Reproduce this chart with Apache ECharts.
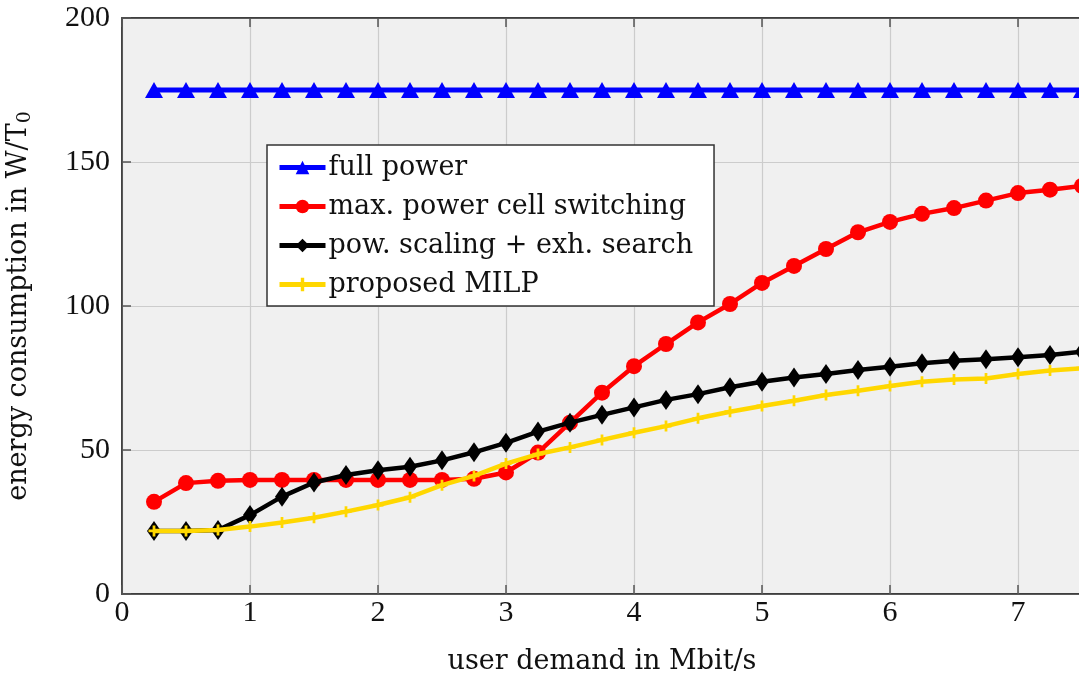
<!DOCTYPE html>
<html><head><meta charset="utf-8">
<script src="https://cdn.jsdelivr.net/npm/echarts@6/dist/echarts.min.js"></script>
<style>html,body{margin:0;padding:0;background:#fff}#c{width:1079px;height:682px}</style>
</head><body><div id="c"></div>
<script>
const xValues = [0.25,0.5,0.75,1,1.25,1.5,1.75,2,2.25,2.5,2.75,3,3.25,3.5,3.75,4,4.25,4.5,4.75,5,5.25,5.5,5.75,6,6.25,6.5,6.75,7,7.25,7.5];
const fullPower = [175,175,175,175,175,175,175,175,175,175,175,175,175,175,175,175,175,175,175,175,175,175,175,175,175,175,175,175,175,175];
const maxPowerCellSwitching = [32,38.5,39.3,39.6,39.6,39.6,39.6,39.6,39.6,39.6,40,42.2,49.1,59.5,69.9,79.1,86.8,94.3,100.7,108,113.9,119.8,125.6,129.2,132,134,136.6,139.2,140.4,141.7];
const powScalingExh = [21.9,21.9,22.2,27.4,33.8,38.7,41.3,43,44.2,46.4,49.2,52.5,56.4,59.5,62.2,64.8,67.4,69.4,71.8,73.7,75.2,76.4,77.8,78.9,80.1,81,81.5,82.2,83,84.1];
const proposedMILP = [21.9,21.9,22.2,23.4,24.8,26.5,28.6,30.9,33.6,37.8,41,45.3,48.6,50.9,53.5,56,58.3,61,63.3,65.3,67.1,69.1,70.6,72.2,73.7,74.5,74.8,76.4,77.6,78.4];
const seriesNames = ['full power','max. power cell switching','pow. scaling + exh. search','proposed MILP'];

const pair = arr => xValues.map((x,i)=>[x,arr[i]]);
const FONT = 'Liberation Serif';
const NFONT = 'DejaVu Serif';
const plusPath = 'path://M3,0H5V3H8V5H5V8H3V5H0V3H3Z';

const chart = echarts.init(document.getElementById('c'), null, {renderer:'canvas'});
chart.setOption({
  animation:false,
  backgroundColor:'#ffffff',
  textStyle:{fontFamily:FONT},
  grid:{left:122,right:-3,top:18,bottom:88,outerBoundsMode:'none',containLabel:false,show:true,backgroundColor:'#f0f0f0',borderColor:'#333',borderWidth:1.5},
  legend:{
    orient:'vertical',left:267,top:145,
    backgroundColor:'#ffffff',borderColor:'#333',borderWidth:1.5,borderRadius:0,
    padding:[9,21,8,10],itemGap:12,itemWidth:46,itemHeight:17,
    lineStyle:{width:5},
    textStyle:{fontFamily:NFONT,fontSize:27,color:'#111',padding:[0,0,0,-2]},
    data:seriesNames
  },
  xAxis:[{
    type:'value',min:0,max:7.5,interval:1,
    name:'user demand in Mbit/s',nameLocation:'middle',nameGap:54,
    nameTextStyle:{fontFamily:NFONT,fontSize:27,color:'#111'},
    axisLine:{show:true,lineStyle:{color:'#333',width:1.5}},
    axisTick:{show:true,inside:true,length:9,lineStyle:{color:'#555',width:1.5}},
    axisLabel:{fontFamily:FONT,fontSize:30,color:'#111',margin:4,showMaxLabel:false},
    splitLine:{show:true,lineStyle:{color:'#cccccc',width:1.2}}
  },{
    type:'value',min:0,max:7.5,interval:1,position:'top',
    axisLine:{show:true,lineStyle:{color:'#333',width:1.5}},
    axisTick:{show:true,inside:true,length:9,lineStyle:{color:'#555',width:1.5}},
    axisLabel:{show:false},splitLine:{show:false}
  }],
  yAxis:{
    type:'value',min:0,max:200,interval:50,
    name:'energy consumption in W/T{sub|0}',nameLocation:'middle',nameGap:87,
    nameTextStyle:{fontFamily:NFONT,fontSize:27,color:'#111',rich:{sub:{fontFamily:NFONT,fontSize:19,color:'#111',verticalAlign:'bottom',padding:[14,0,0,0]}}},
    axisLine:{show:true,lineStyle:{color:'#333',width:1.5}},
    axisTick:{show:true,inside:true,length:9,lineStyle:{color:'#555',width:1.5}},
    axisLabel:{fontFamily:FONT,fontSize:30,color:'#111',margin:12},
    splitLine:{show:true,lineStyle:{color:'#cccccc',width:1.2}}
  },
  series:[
    {name:seriesNames[0],type:'line',data:pair(fullPower),symbol:'triangle',symbolSize:[18,16],
     lineStyle:{color:'#0000ff',width:5},itemStyle:{color:'#0000ff'},z:2},
    {name:seriesNames[1],type:'line',data:pair(maxPowerCellSwitching),symbol:'circle',symbolSize:16,
     lineStyle:{color:'#ff0000',width:4.5},itemStyle:{color:'#ff0000'},z:3},
    {name:seriesNames[2],type:'line',data:pair(powScalingExh),symbol:'diamond',symbolSize:[14,20],
     lineStyle:{color:'#000000',width:4.5},itemStyle:{color:'#000000'},z:4},
    {name:seriesNames[3],type:'line',data:pair(proposedMILP),symbol:plusPath,symbolSize:11,
     lineStyle:{color:'#ffd700',width:4.5},itemStyle:{color:'#ffd700'},z:5}
  ]
});
</script></body></html>
